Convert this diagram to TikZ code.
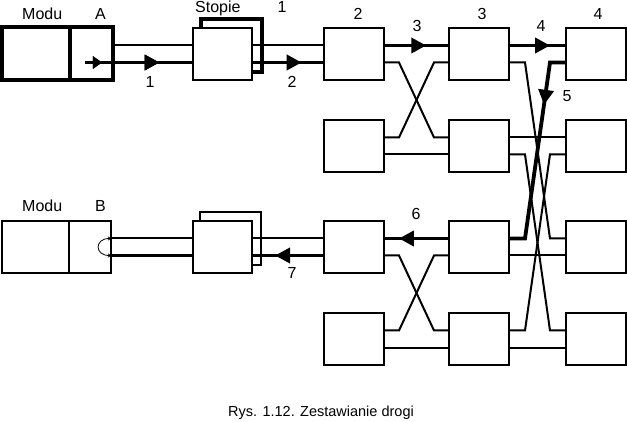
\documentclass[tikz,border=0pt]{standalone}
\usepackage{fontspec}
\setmainfont{Liberation Sans}
\usetikzlibrary{arrows.meta,positioning,decorations.markings}

\begin{document}
\begin{tikzpicture}[
	x = 1pt, y = -1pt, % one unit = one pixel, y downwards
	font = \fontsize{16}{19}\selectfont,
	box/.style={rectangle, draw=black, fill=white, line width=2pt, inner sep=0pt, outer sep=0pt, minimum width=60pt, minimum height=52pt},
	modbox/.style={box, minimum width=110pt},                                  %module box
	wire/.style={line width=2pt},
	route/.style={line width=3.8pt},                                           %the chosen path
	midarrow/.style={postaction={decorate}, decoration={markings, mark=at position #1 with {\arrow{Triangle[length=15pt, width=15pt]}}}},
	smallarrow/.style={postaction={decorate}, decoration={markings, mark=at position #1 with {\arrow{Triangle[length=9pt, width=12pt]}}}},
	lab/.style={anchor=base, inner sep=0pt},
	]
	\useasboundingbox (0,0) rectangle (627,422);

	% Shadow boxes of the outer stages (drawn first)
	\node[box, line width=4pt, minimum width=61pt, minimum height=53pt] (SAb) at (231,46) {};
	\node[box, minimum width=61pt, minimum height=53pt] (SBb) at (230,238.5) {};

	% Modules and stages
	\node[modbox, line width=4pt, minimum width=111pt, minimum height=53pt] (A) at (57.5,54) {};
	\node[box, minimum width=59pt] (SA) [right = 80pt of A] {};
	\node[box] (S21) [right = 72pt of SA] {};
	\node[box] (S31) [right = 65pt of S21] {};
	\node[box] (S41) [right = 57pt of S31] {};
	\node[box] (S22) [below = 40pt of S21] {};
	\node[box] (S32) [right = 65pt of S22] {};
	\node[box] (S42) [right = 57pt of S32] {};
	\node[box] (S23) [below = 49pt of S22] {};
	\node[box] (S33) [right = 65pt of S23] {};
	\node[box] (S43) [right = 57pt of S33] {};
	\node[box] (S24) [below = 40pt of S23] {};
	\node[box] (S34) [right = 65pt of S24] {};
	\node[box] (S44) [right = 57pt of S34] {};
	\node[box, minimum width=59pt] (SB) [left = 72pt of S23] {};
	\node[modbox, minimum width=109pt] (B) at (56.5,247) {};

	% Dividers in the modules
	\draw[line width=4pt] ([xshift=68pt]A.north west) -- ([xshift=68pt]A.south west);
	\draw[line width=2pt] ([xshift=67pt]B.north west) -- ([xshift=67pt]B.south west);

	% Module A to stage 2
	\draw[wire] ([yshift=8.5pt]A.east) -- ([yshift=8.5pt]SA.west);
	\draw[route, smallarrow=.157, midarrow=.69] ([xshift=-28pt,yshift=-8.5pt]A.east) -- ([yshift=-8.5pt]SA.west);
	\draw[wire] ([yshift=8.5pt]SA.east) -- ([yshift=8.5pt]S21.west);
	\draw[route, midarrow=.69] ([yshift=-8.5pt]SA.east) -- ([yshift=-8.5pt]S21.west);

	% Stage 2 to stage 3
	\draw[route, midarrow=.65] ([yshift=8.5pt]S21.east) -- ([yshift=8.5pt]S31.west);
	\draw[wire] ([yshift=-8.5pt]S21.east) -- ++(15,0) -- ([xshift=-15pt,yshift=8.5pt]S32.west) -- ([yshift=8.5pt]S32.west);
	\draw[wire] ([yshift=8.5pt]S22.east) -- ++(15,0) -- ([xshift=-15pt,yshift=-8.5pt]S31.west) -- ([yshift=-8.5pt]S31.west);
	\draw[wire] ([yshift=-8.5pt]S22.east) -- ([yshift=-8.5pt]S32.west);
	\draw[route, midarrow=.77] ([yshift=8.5pt]S33.west) -- ([yshift=8.5pt]S23.east);
	\draw[wire] ([yshift=-8.5pt]S23.east) -- ++(15,0) -- ([xshift=-15pt,yshift=8.5pt]S34.west) -- ([yshift=8.5pt]S34.west);
	\draw[wire] ([yshift=8.5pt]S24.east) -- ++(15,0) -- ([xshift=-15pt,yshift=-8.5pt]S33.west) -- ([yshift=-8.5pt]S33.west);
	\draw[wire] ([yshift=-8.5pt]S24.east) -- ([yshift=-8.5pt]S34.west);

	% Stage 3 to stage 4
	\draw[route, midarrow=.72] ([yshift=8.5pt]S31.east) -- ([yshift=8.5pt]S41.west);
	\draw[wire] ([yshift=-8.5pt]S31.east) -- ++(16,0) -- ([xshift=-16pt,yshift=8.5pt]S43.west) -- ([yshift=8.5pt]S43.west);
	\draw[wire] ([yshift=8.5pt]S32.east) -- ([yshift=8.5pt]S42.west);
	\draw[wire] ([yshift=-8.5pt]S32.east) -- ++(16,0) -- ([xshift=-16pt,yshift=8.5pt]S44.west) -- ([yshift=8.5pt]S44.west);
	\draw[wire] ([yshift=-8.5pt]S42.west) -- ++(-16,0) -- ([xshift=16pt,yshift=8.5pt]S34.east) -- ([yshift=8.5pt]S34.east);
	\draw[wire] ([yshift=-8.5pt]S33.east) -- ([yshift=-8.5pt]S43.west);
	\draw[wire] ([yshift=-8.5pt]S34.east) -- ([yshift=-8.5pt]S44.west);
	\draw[route, midarrow=.28] ([yshift=-8.5pt]S41.west) -- ++(-16,0) -- ([xshift=16pt,yshift=8.5pt]S33.east) -- ([yshift=8.5pt]S33.east);

	% Stage 2 back to module B
	\draw[wire] ([yshift=8.5pt]SB.east) -- ([yshift=8.5pt]S23.west);
	\draw[route, midarrow=.68] ([yshift=-8.5pt]S23.west) -- ([yshift=-8.5pt]SB.east);
	\draw[wire] ([yshift=8.5pt]SB.west) -- ([yshift=8.5pt]B.east);
	\draw[route] ([yshift=-8.5pt]SB.west) -- ([yshift=-8.5pt]B.east);
	\draw[line width=.8pt, {Stealth[length=3pt, width=4pt]}-{Stealth[length=3pt, width=4pt]}] ([yshift=-8.5pt]B.east) to[out=180, in=180, looseness=2.5] ([yshift=8.5pt]B.east);

	% Labels
	\node[lab, anchor=base west] (tA) at (22,20) {Modu\hspace{33pt}A};
	\node[lab, anchor=base west] (tS) at (195,12.5) {Stopie\hspace{37pt}1};
	\node[lab, anchor=base west] (tB) at (22,212) {Modu\hspace{33pt}B};
	\node[lab] (n2) at (358,20) {2};
	\node[lab] (n3) at (482,20) {3};
	\node[lab] (n4) at (598,20) {4};
	\node[lab] (a1) at (150,88) {1};
	\node[lab] (a2) at (292,88) {2};
	\node[lab] (a3) at (417,32) {3};
	\node[lab] (a4) at (541,32) {4};
	\node[lab] (a5) at (567,102) {5};
	\node[lab] (a6) at (416,220) {6};
	\node[lab] (a7) at (292,279) {7};
	\node[lab, font=\fontsize{14.5}{17}\selectfont] (cap) at (321,416) {Rys. 1.12. Zestawianie drogi};
\end{tikzpicture}
\end{document}
